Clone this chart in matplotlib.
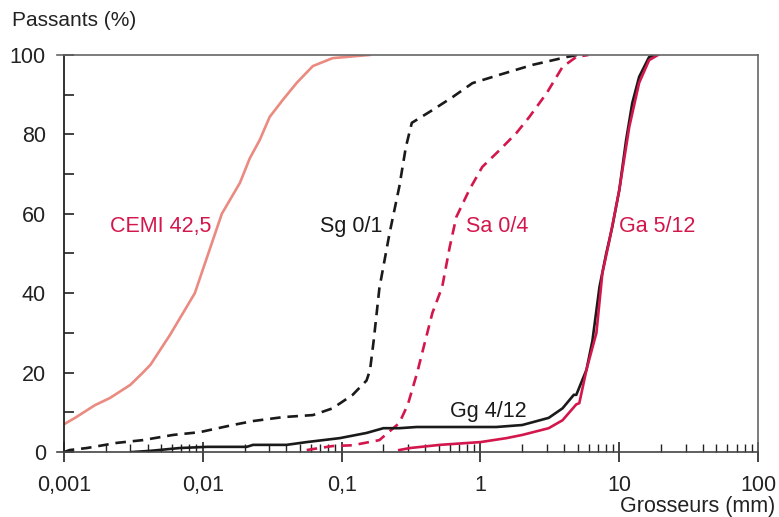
import matplotlib
matplotlib.use('Agg')
import matplotlib.pyplot as plt
from matplotlib.ticker import LogLocator, FixedLocator, FuncFormatter

plt.rcParams['font.family'] = ['Liberation Sans', 'DejaVu Sans']

# grading curves, size (mm) vs passing (%)
cem_x = [0.001, 0.0012, 0.00167, 0.00214, 0.003, 0.0037, 0.0042, 0.0058, 0.00875, 0.0137,
         0.0185, 0.0218, 0.0257, 0.0303, 0.0377, 0.0475, 0.062, 0.086, 0.159]
cem_y = [7, 8.6, 11.8, 13.6, 16.9, 20, 22, 29.5, 40, 60,
         67.8, 74, 78.6, 84.4, 88.7, 93, 97.2, 99.2, 100]

sg_x = [0.001, 0.0011, 0.00146, 0.0024, 0.0037, 0.0061, 0.0095, 0.0164, 0.023, 0.038, 0.062,
        0.086, 0.12, 0.151, 0.16, 0.17, 0.187, 0.221, 0.26, 0.29, 0.32, 0.45, 0.63, 0.875,
        1.37, 2.37, 4.2, 5.0]
sg_y = [0, 0.5, 1, 2.3, 3, 4.3, 5, 6.8, 7.8, 8.8, 9.3,
        11, 14.4, 18, 20.6, 28, 41.3, 55, 66.8, 76.8, 82.9, 86.1, 89.4, 92.9,
        95, 97.5, 99.5, 100]

sa_x = [0.056, 0.086, 0.12, 0.187, 0.26, 0.3, 0.35, 0.4, 0.45, 0.53, 0.6, 0.67, 0.83, 1.03,
        1.37, 1.82, 2.25, 3.0, 3.9, 4.9, 6.0]
sa_y = [0.5, 1.5, 1.7, 3, 7.3, 12, 20, 28, 35, 41.6, 51.6, 59.2, 66, 71.8,
        76, 80.4, 84.4, 90.4, 97, 99.5, 100]

gg_x = [0.0031, 0.0042, 0.0068, 0.0107, 0.0207, 0.023, 0.04, 0.056, 0.097, 0.151, 0.2, 0.26,
        0.347, 1.3, 2.0, 3.1, 3.9, 4.7, 4.9, 5.8, 6.4, 7.2, 8.05, 8.9, 10, 11.2, 12.4, 13.9,
        16.4, 18.2]
gg_y = [0, 0.3, 1, 1.3, 1.3, 1.8, 1.8, 2.5, 3.5, 4.8, 6, 6,
        6.3, 6.3, 6.8, 8.6, 11, 14.4, 14.4, 20.7, 28, 41.6, 50, 56.7, 66, 78.6, 87.9, 94.5,
        99.5, 100]

ga_x = [0.26, 0.31, 0.51, 1.0, 1.54, 2.0, 3.1, 3.9, 4.9, 5.15, 5.8, 6.84, 7.55, 8.5, 10,
        11.8, 13.9, 16.4, 19]
ga_y = [0.5, 1, 1.8, 2.5, 3.5, 4.3, 6, 8, 12, 12.3, 20.7, 30, 45, 53.4, 66,
        81.9, 93, 98.7, 100]

salmon = '#ea8a80'
crimson = '#d3174c'
dark = '#1a1a1a'
fs = 15.5

fig = plt.figure(figsize=(7.79, 5.17), dpi=100)
ax = fig.add_axes([0.0822, 0.1257, 0.891, 0.768])

lw = 1.9
ax.plot(cem_x, cem_y, color=salmon, lw=lw)
ax.plot(sg_x, sg_y, color=dark, lw=lw, dashes=(4, 2.6))
ax.plot(sa_x, sa_y, color=crimson, lw=lw, dashes=(4, 2.6))
ax.plot(gg_x, gg_y, color=dark, lw=lw)
ax.plot(ga_x, ga_y, color=crimson, lw=lw)

ax.set_xscale('log')
ax.set_xlim(0.001, 100)
ax.set_ylim(0, 100)

ax.xaxis.set_major_locator(LogLocator(base=10, numticks=10))
ax.xaxis.set_minor_locator(LogLocator(base=10, subs=range(2, 10), numticks=20))
ax.xaxis.set_major_formatter(FuncFormatter(lambda v, p: ('%g' % v).replace('.', ',')))
ax.xaxis.set_minor_formatter(FuncFormatter(lambda v, p: ''))
ax.yaxis.set_major_locator(FixedLocator([0, 20, 40, 60, 80, 100]))
ax.yaxis.set_minor_locator(FixedLocator([10, 30, 50, 70, 90]))

ax.tick_params(axis='x', which='major', direction='inout', length=15, width=1.2,
               labelsize=fs, pad=9, colors='#222222')
ax.tick_params(axis='x', which='minor', direction='in', length=6, width=1, colors='#222222')
ax.tick_params(axis='y', which='both', direction='in', length=7, width=1.2,
               labelsize=fs, pad=13, colors='#222222')

for s in ['top', 'right']:
    ax.spines[s].set_color('#666666')
    ax.spines[s].set_linewidth(1.2)
ax.spines['left'].set_color('#222222')
ax.spines['left'].set_linewidth(1.3)
ax.spines['bottom'].set_color('#444444')
ax.spines['bottom'].set_linewidth(1.2)

# horizontal lines at 0 and 100 run a little past the left axis
trans = ax.get_yaxis_transform()
ax.plot([-0.01, 0], [100, 100], color='#666666', lw=1.2, transform=trans, clip_on=False)
ax.plot([-0.01, 0], [0, 0], color='#444444', lw=1.2, transform=trans, clip_on=False)

ax.text(0.00214, 56.7, 'CEMI 42,5', color=crimson, fontsize=fs, va='center')
ax.text(0.0695, 56.7, 'Sg 0/1', color=dark, fontsize=fs, va='center')
ax.text(0.79, 56.7, 'Sa 0/4', color=crimson, fontsize=fs, va='center')
ax.text(10, 56.7, 'Ga 5/12', color=crimson, fontsize=fs, va='center')
ax.text(0.6, 10.3, 'Gg 4/12', color=dark, fontsize=fs, va='center')

fig.text(12 / 779, 1 - 21 / 517, 'Passants (%)', fontsize=15, color='#222222', va='center')
fig.text(775 / 779, 1 - 512 / 517, 'Grosseurs (mm)', fontsize=fs, color='#222222',
         va='baseline', ha='right')

plt.savefig('out.png', dpi=100)
